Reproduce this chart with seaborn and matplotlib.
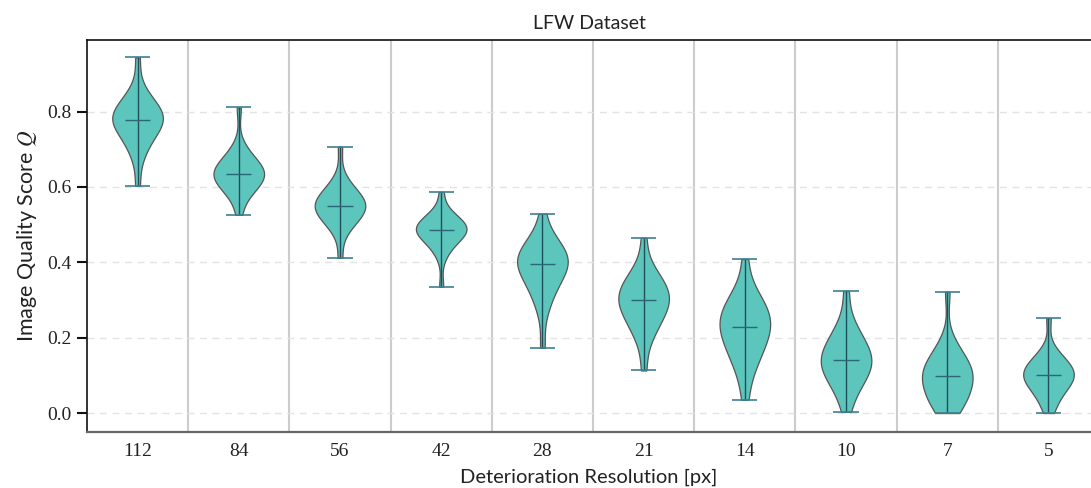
import numpy as np
import pandas as pd
import matplotlib
matplotlib.use("Agg")
import matplotlib.pyplot as plt
import seaborn as sns

# deterioration resolutions (x categories)
resolutions = ["112", "84", "56", "42", "28", "21", "14", "10", "7", "5"]

q_112 = [0.603, 0.68, 0.70, 0.72, 0.735, 0.745, 0.755, 0.763, 0.77, 0.775, 0.779,
         0.784, 0.79, 0.795, 0.80, 0.807, 0.815, 0.825, 0.84, 0.86, 0.944]
q_84 = [0.526, 0.57, 0.585, 0.595, 0.603, 0.61, 0.616, 0.622, 0.627, 0.631, 0.635,
        0.639, 0.644, 0.649, 0.655, 0.661, 0.668, 0.677, 0.69, 0.71, 0.811]
q_56 = [0.412, 0.48, 0.497, 0.508, 0.517, 0.524, 0.53, 0.537, 0.542, 0.546, 0.55,
        0.554, 0.559, 0.564, 0.57, 0.576, 0.583, 0.592, 0.604, 0.625, 0.707]
q_42 = [0.335, 0.415, 0.435, 0.448, 0.458, 0.465, 0.471, 0.476, 0.48, 0.483, 0.486,
        0.49, 0.493, 0.497, 0.501, 0.505, 0.51, 0.516, 0.524, 0.537, 0.587]
q_28 = [0.173, 0.27, 0.30, 0.32, 0.338, 0.352, 0.363, 0.372, 0.381, 0.389, 0.396,
        0.402, 0.408, 0.414, 0.42, 0.427, 0.435, 0.444, 0.455, 0.472, 0.529]
q_21 = [0.113, 0.19, 0.213, 0.23, 0.245, 0.257, 0.267, 0.277, 0.285, 0.293, 0.299,
        0.307, 0.314, 0.321, 0.329, 0.337, 0.346, 0.357, 0.37, 0.39, 0.465]
q_14 = [0.035, 0.10, 0.127, 0.146, 0.162, 0.176, 0.189, 0.201, 0.211, 0.22, 0.229,
        0.238, 0.247, 0.256, 0.265, 0.274, 0.284, 0.296, 0.311, 0.333, 0.409]
q_10 = [0.003, 0.045, 0.065, 0.08, 0.092, 0.102, 0.111, 0.119, 0.127, 0.134, 0.141,
        0.148, 0.156, 0.164, 0.173, 0.183, 0.194, 0.207, 0.224, 0.25, 0.324]
q_7 = [0.0, 0.008, 0.02, 0.032, 0.043, 0.053, 0.062, 0.071, 0.079, 0.088, 0.098,
       0.104, 0.11, 0.117, 0.124, 0.132, 0.142, 0.154, 0.17, 0.195, 0.322]
q_5 = [0.0, 0.024, 0.04, 0.054, 0.064, 0.072, 0.079, 0.086, 0.091, 0.096, 0.10,
       0.105, 0.11, 0.115, 0.121, 0.127, 0.134, 0.142, 0.152, 0.168, 0.252]

scores = [q_112, q_84, q_56, q_42, q_28, q_21, q_14, q_10, q_7, q_5]

df = pd.DataFrame({
    "res": np.repeat(resolutions, [len(s) for s in scores]),
    "q": np.concatenate(scores),
})

sns.set_style("white")
plt.rcParams["font.family"] = ["Lato", "DejaVu Sans"]
plt.rcParams["mathtext.fontset"] = "stix"

fig = plt.figure(figsize=(10.91, 4.88), dpi=100)
ax = fig.add_axes([0.0797, 0.115, 0.9203, 0.803])

for i in range(len(resolutions) - 1):
    ax.axvline(i + 0.5, color="#cccccc", lw=1.5, zorder=0)
for yv in [0.0, 0.2, 0.4, 0.6, 0.8]:
    ax.axhline(yv, color="#e3e3e3", lw=1, ls=(0, (5, 4)), zorder=0)

sns.violinplot(data=df, x="res", y="q", order=resolutions, color="#5cc5bc",
               saturation=1, linecolor="#555555", linewidth=0.9, inner=None,
               cut=0, density_norm="width", width=0.5, bw_adjust=1.0, ax=ax)

# min / max caps, median and centre line like matplotlib's violinplot
pos = np.arange(len(resolutions))
mins = [min(s) for s in scores]
maxs = [max(s) for s in scores]
meds = [np.median(s) for s in scores]
ax.vlines(pos, mins, maxs, color="#1f4f5c", lw=1.0, zorder=3)
ax.hlines(mins, pos - 0.125, pos + 0.125, color="#3f7f93", lw=1.2, zorder=3)
ax.hlines(maxs, pos - 0.125, pos + 0.125, color="#3f7f93", lw=1.2, zorder=3)
ax.hlines(meds, pos - 0.125, pos + 0.125, color="#2a6675", lw=1.0, zorder=3)

ax.set_xlim(-0.5, 9.42)
ax.set_ylim(-0.05, 0.99)
ax.set_yticks([0.0, 0.2, 0.4, 0.6, 0.8])
ax.set_yticklabels(["0.0", "0.2", "0.4", "0.6", "0.8"])
for lab in ax.get_yticklabels() + ax.get_xticklabels():
    lab.set_fontfamily("Liberation Serif")
    lab.set_fontsize(14)
    lab.set_color("#222222")
ax.tick_params(axis="y", left=True, length=7, width=1.5, color="#111111", pad=4)
ax.tick_params(axis="x", bottom=False, length=0, pad=8)

for side in ["left", "top"]:
    ax.spines[side].set_color("#111111")
    ax.spines[side].set_linewidth(1.2)
ax.spines["bottom"].set_color("#666666")
ax.spines["bottom"].set_linewidth(1.6)
ax.spines["right"].set_visible(False)

ax.set_title("LFW Dataset", fontsize=14, color="#222222", pad=8)
ax.set_xlabel("Deterioration Resolution [px]", fontsize=14.5, color="#222222", labelpad=6)
ax.set_ylabel("Image Quality Score $Q$", fontsize=15.5, color="#222222", labelpad=6)

fig.savefig("out.png", dpi=100)
